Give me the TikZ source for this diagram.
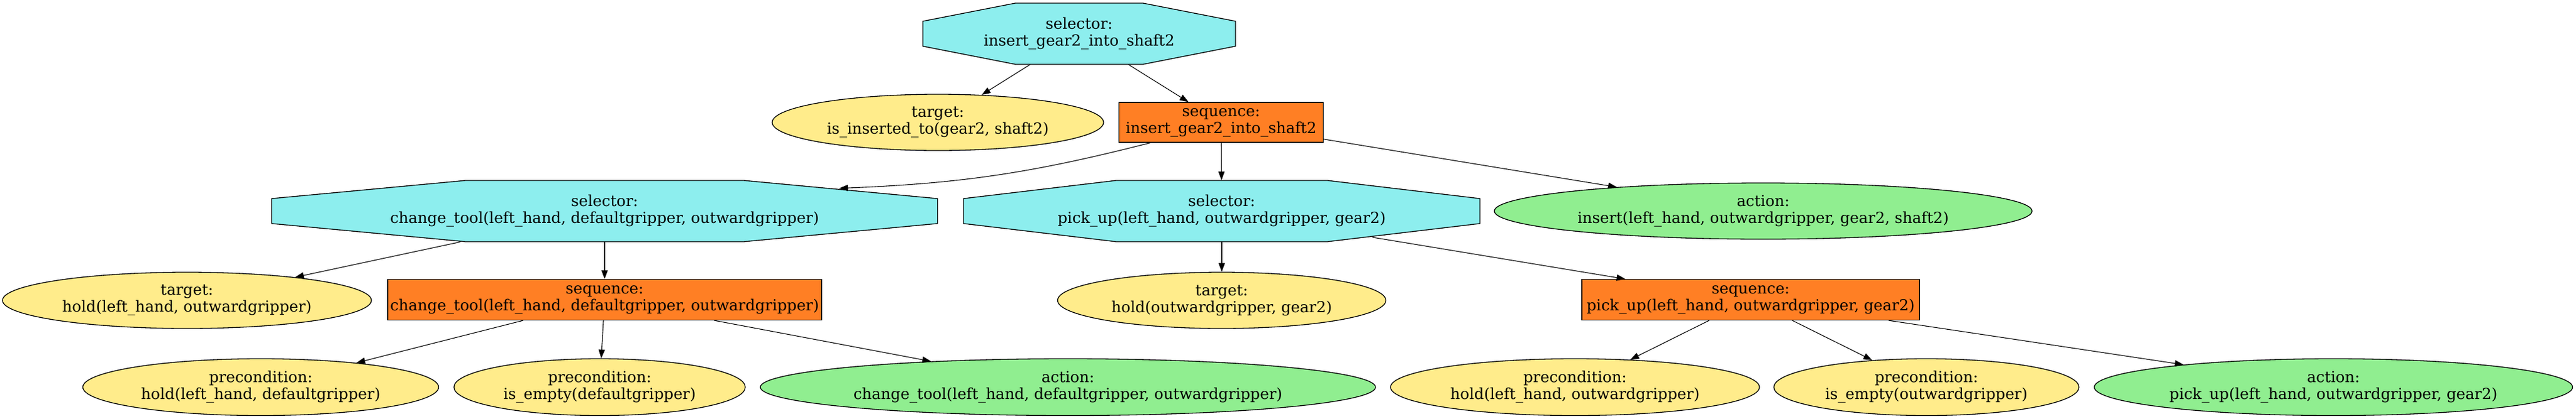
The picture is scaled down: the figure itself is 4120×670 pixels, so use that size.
\documentclass[tikz,border=0pt]{standalone}
\usepackage{fontspec}
\setmainfont{DejaVu Serif}
\usetikzlibrary{shapes.geometric,arrows.meta}
\definecolor{selc}{HTML}{8DEEEE}
\definecolor{seqc}{HTML}{FF7F24}
\definecolor{tgtc}{HTML}{FFEC8B}
\definecolor{actc}{HTML}{90EE90}
% octagon: name, cx, cy, w, h, chamfer-x, text
\newcommand\octo[7]{%
  \path[octline] (#2-#4/2,#3-#5/2+29) -- (#2-#4/2+#6,#3-#5/2) -- (#2+#4/2-#6,#3-#5/2)
    -- (#2+#4/2,#3-#5/2+29) -- (#2+#4/2,#3+#5/2-29) -- (#2+#4/2-#6,#3+#5/2)
    -- (#2-#4/2+#6,#3+#5/2) -- (#2-#4/2,#3+#5/2-29) -- cycle;
  \node[octbox, minimum width=#4*0.5pt, minimum height=#5*0.5pt] (#1) at (#2,#3) {#7};%
}
\begin{document}
\begin{tikzpicture}[x=0.5pt,y=-0.5pt]
\tikzset{
  lbl/.style={align=center, inner sep=0pt, font=\fontsize{12.2}{13.5}\selectfont},
  octbox/.style={lbl, rectangle, draw=none},
  octline/.style={draw=black, line width=0.65pt, fill=selc},
  seqbox/.style={lbl, rectangle, draw=black, line width=0.65pt, fill=seqc},
  tgtbox/.style={lbl, ellipse, draw=black, line width=0.65pt, fill=tgtc},
  actbox/.style={lbl, ellipse, draw=black, line width=0.65pt, fill=actc},
  edge/.style={-{Triangle[length=7pt,width=5pt]}, line width=0.55pt},
}
\useasboundingbox (0,0) rectangle (4120,670);
\fill[white] (0,0) rectangle (4120,670);

\octo{sroot}{1726}{54}{500}{98}{148}{selector:\\insert\_gear2\_into\_shaft2}
\node[tgtbox, minimum width=265pt, minimum height=45pt] (tins) at (1500,196) {target:\\is\_inserted\_to(gear2, shaft2)};
\node[seqbox, minimum width=163.5pt, minimum height=32pt] (qins) at (1953,196) {sequence:\\insert\_gear2\_into\_shaft2};

\octo{sct}{967}{338}{1065}{98}{310}{selector:\\change\_tool(left\_hand, defaultgripper, outwardgripper)}
\octo{spu}{1954}{338}{826}{98}{244}{selector:\\pick\_up(left\_hand, outwardgripper, gear2)}
\node[actbox, minimum width=430pt, minimum height=45pt] (ains) at (2820,338) {action:\\insert(left\_hand, outwardgripper, gear2, shaft2)};

\node[tgtbox, minimum width=295pt, minimum height=45pt] (thold) at (299,481) {target:\\hold(left\_hand, outwardgripper)};
\node[seqbox, minimum width=347pt, minimum height=32.5pt] (qct) at (967,480) {sequence:\\change\_tool(left\_hand, defaultgripper, outwardgripper)};
\node[tgtbox, minimum width=262.5pt, minimum height=45pt] (thog) at (1954,481) {target:\\hold(outwardgripper, gear2)};
\node[seqbox, minimum width=270pt, minimum height=32.5pt] (qpu) at (2800,480) {sequence:\\pick\_up(left\_hand, outwardgripper, gear2)};

\node[tgtbox, minimum width=284.5pt, minimum height=45.5pt] (phld) at (417,620) {precondition:\\hold(left\_hand, defaultgripper)};
\node[tgtbox, minimum width=233pt, minimum height=45.5pt] (pied) at (959,620) {precondition:\\is\_empty(defaultgripper)};
\node[actbox, minimum width=492pt, minimum height=45.5pt] (act) at (1708,620) {action:\\change\_tool(left\_hand, defaultgripper, outwardgripper)};
\node[tgtbox, minimum width=295pt, minimum height=45.5pt] (phlo) at (2519,620) {precondition:\\hold(left\_hand, outwardgripper)};
\node[tgtbox, minimum width=244pt, minimum height=45.5pt] (pieo) at (3081,620) {precondition:\\is\_empty(outwardgripper)};
\node[actbox, minimum width=382.5pt, minimum height=45.5pt] (apu) at (3732,620) {action:\\pick\_up(left\_hand, outwardgripper, gear2)};

\draw[edge] (sroot) -- (tins);
\draw[edge] (sroot) -- (qins);
\draw[edge] ([shift={(-113,0)}]qins.south) to[bend left=6] ([shift={(375,13)}]sct.north);
\draw[edge] (qins) -- (spu);
\draw[edge] (qins) -- (ains);
\draw[edge] (sct) -- (thold);
\draw[edge] (sct) -- (qct);
\draw[edge] (spu) -- (thog);
\draw[edge] ([shift={(241,42)}]spu.center) -- (qpu);
\draw[edge] (qct) -- (phld);
\draw[edge] (qct) -- (pied);
\draw[edge] (qct) -- (act);
\draw[edge] (qpu) -- (phlo);
\draw[edge] (qpu) -- (pieo);
\draw[edge] (qpu) -- (apu);
\end{tikzpicture}
\end{document}
